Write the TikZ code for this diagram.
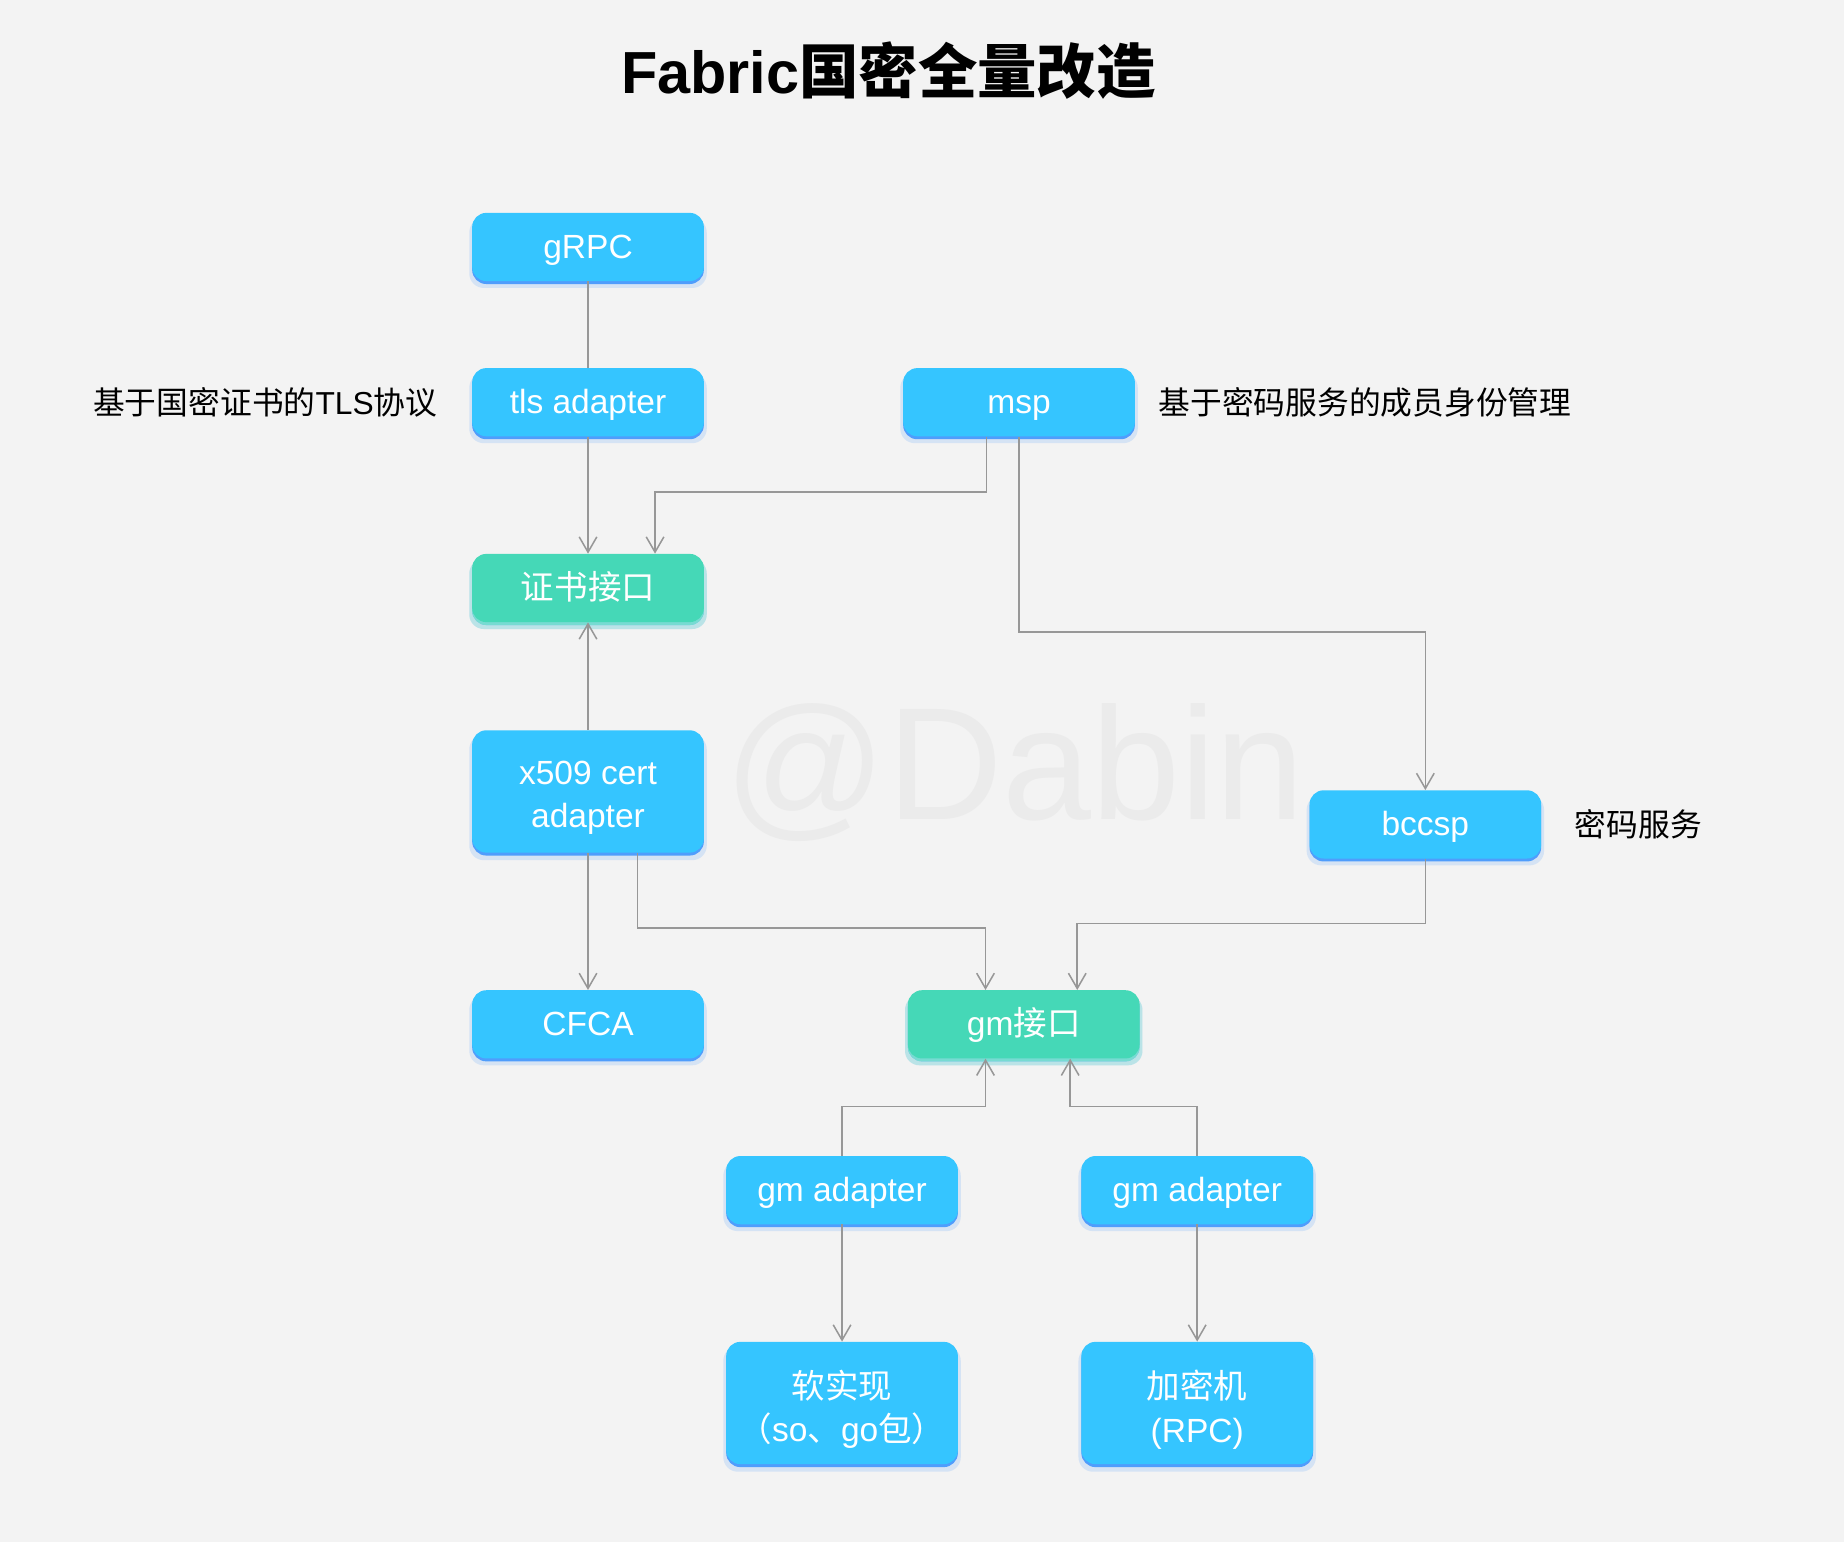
\documentclass[tikz,border=0pt]{standalone}
\usepackage{fontspec}
\setmainfont{Liberation Sans}
\newfontfamily\cjk{Noto Sans CJK SC}
\usetikzlibrary{arrows.meta,shadows}
\definecolor{bg}{HTML}{F3F3F3}
\definecolor{boxblue}{HTML}{35C5FF}
\definecolor{bshadow}{HTML}{2E8CFF}
\definecolor{boxgreen}{HTML}{45D8B7}
\definecolor{gshadow}{HTML}{7EE6CC}
\definecolor{linegray}{HTML}{979797}
\definecolor{wm}{HTML}{EBEBEB}
\tikzset{
  bluebox/.style={rounded corners=12pt, minimum width=197pt, minimum height=58pt, inner sep=0pt,
    fill=boxblue, text=white, align=center, font=\fontsize{28.5}{37}\selectfont,
    execute at begin node={\rule{0pt}{26pt}},
    execute at end node={\rule[-7pt]{0pt}{7pt}},
    drop shadow={shadow xshift=0pt, shadow yshift=-5pt, shadow scale=1.025, fill=bshadow, opacity=0.15},
    drop shadow={shadow xshift=0pt, shadow yshift=-2.5pt, fill=bshadow, opacity=0.8}},
  greenbox/.style={bluebox, fill=boxgreen,
    drop shadow={shadow xshift=0pt, shadow yshift=-5pt, shadow scale=1.025, fill=gshadow, opacity=0.3},
    drop shadow={shadow xshift=0pt, shadow yshift=-2.5pt, fill=gshadow, opacity=0.8}},
  tallbox/.style={minimum height=104pt},
  talltext/.style={inner sep=0pt, text=white, align=center, font=\fontsize{28.5}{37}\selectfont,
    execute at begin node={}, execute at end node={}, yshift=-5.5pt},
  lbl/.style={inner sep=0pt, text=black, font=\fontsize{27}{32}\selectfont},
  conn/.style={draw=linegray, line width=1.3pt},
  arr/.style={conn, -{Straight Barb[length=13pt,width=15pt]}},
}
\begin{document}
\begin{tikzpicture}[x=1pt,y=-1pt]
\fill[bg] (0,0) rectangle (1568,1311);
\useasboundingbox (0,0) rectangle (1568,1311);
% watermark
\node[anchor=base west, inner sep=0pt, text=wm, font=\fontsize{136}{140}\selectfont] (wmark) at (616,697) {@Dabin};
% title
\node[inner sep=0pt, font=\fontsize{50.5}{56}\selectfont\bfseries] (title) at (755.5,60) {Fabric{\cjk 国密全量改造}};
% boxes
\node[bluebox] (grpc) at (500,210) {gRPC};
\node[bluebox] (tls) at (500,342) {tls adapter};
\node[bluebox] (msp) at (866.5,342) {msp};
\node[greenbox] (cert) at (500,500) {\cjk 证书接口};
\node[bluebox, tallbox, label={[talltext]center:{x509 cert\\adapter}}] (x509) at (500,673) {};
\node[bluebox] (bccsp) at (1212,701) {bccsp};
\node[bluebox] (cfca) at (500,871) {CFCA};
\node[greenbox] (gmi) at (870.5,871) {gm{\cjk 接口}};
\node[bluebox] (gma1) at (716,1012) {gm adapter};
\node[bluebox] (gma2) at (1018,1012) {gm adapter};
\node[bluebox, tallbox, label={[talltext]center:{{\cjk 软实现}\\{\cjk （}so{\cjk 、}go{\cjk 包）}}}] (soft) at (716,1193) {};
\node[bluebox, tallbox, label={[talltext]center:{{\cjk 加密机}\\(RPC)}}] (hsm) at (1018,1193) {};
% labels
\node[lbl, anchor=east] (ltls) at (372,342) {{\cjk 基于国密证书的}TLS{\cjk 协议}};
\node[lbl, anchor=west] (lmsp) at (985,342) {\cjk 基于密码服务的成员身份管理};
\node[lbl, anchor=west] (lbccsp) at (1339,701) {\cjk 密码服务};
% connectors
\draw[conn] (grpc.south) -- (tls.north);
\draw[arr] (tls.south) -- (cert.north);
\draw[arr] ([xshift=-27.5pt]msp.south) -- ++(0,47) -| ([xshift=57pt]cert.north);
\draw[arr] (msp.south) -- ++(0,166) -| (bccsp.north);
\draw[arr] (x509.north) -- (cert.south);
\draw[arr] (x509.south) -- (cfca.north);
\draw[arr] ([xshift=42pt]x509.south) -- ++(0,64) -| ([xshift=-32.5pt]gmi.north);
\draw[arr] (bccsp.south) -- ++(0,55) -| ([xshift=45.5pt]gmi.north);
\draw[arr] (gma1.north) -- ++(0,-42) -| ([xshift=-32.5pt]gmi.south);
\draw[arr] (gma2.north) -- ++(0,-42) -| ([xshift=39.5pt]gmi.south);
\draw[arr] (gma1.south) -- (soft.north);
\draw[arr] (gma2.south) -- (hsm.north);
\end{tikzpicture}
\end{document}
